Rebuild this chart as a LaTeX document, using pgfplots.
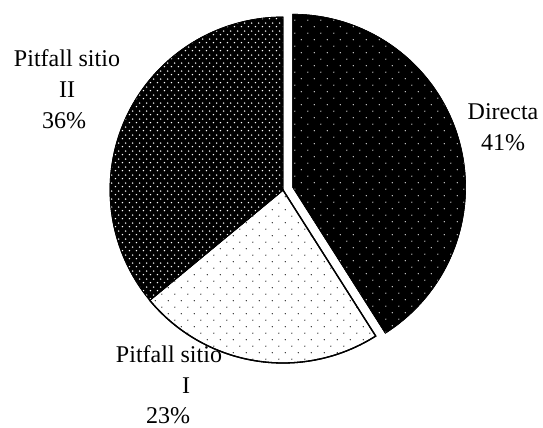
\documentclass[border=0pt]{standalone}
\usepackage{fontspec}
\setmainfont{Liberation Serif}
\usepackage{pgfplots}
\pgfplotsset{compat=1.18}
\usepackage{pgfplotstable}
\usetikzlibrary{patterns.meta}

% staggered dot fills
\pgfdeclarepattern{
  name=sparsedots, type=uncolored,
  bottom left={\pgfpoint{0bp}{0bp}},
  top right={\pgfpoint{13.3bp}{13.3bp}},
  tile size={\pgfpoint{13.3bp}{13.3bp}},
  code={
    \pgfpathcircle{\pgfpoint{3bp}{3bp}}{0.65bp}
    \pgfpathcircle{\pgfpoint{9.65bp}{9.65bp}}{0.65bp}
    \pgfusepath{fill}
  }
}
\pgfdeclarepattern{
  name=densedots, type=uncolored,
  bottom left={\pgfpoint{0bp}{0bp}},
  top right={\pgfpoint{6.7bp}{8bp}},
  tile size={\pgfpoint{6.7bp}{8bp}},
  code={
    \pgfpathcircle{\pgfpoint{1.5bp}{1.5bp}}{0.85bp}
    \pgfpathcircle{\pgfpoint{4.85bp}{5.5bp}}{0.85bp}
    \pgfusepath{fill}
  }
}

\tikzset{lbl/.style={font=\fontsize{24bp}{31bp}\selectfont, anchor=base, inner sep=0pt}}

% share of each group (percent)
\pgfplotstableread{
label     value
Directa   41
PitfallI  23
PitfallII 36
}\piedata

\pgfplotstablegetelem{0}{value}\of\piedata \let\vA\pgfplotsretval
\pgfplotstablegetelem{1}{value}\of\piedata \let\vB\pgfplotsretval
\pgfplotstablegetelem{2}{value}\of\piedata \let\vC\pgfplotsretval

% slices run clockwise from twelve o'clock
\pgfmathsetmacro\aA{90}
\pgfmathsetmacro\bA{\aA-3.6*\vA}
\pgfmathsetmacro\bB{\bA-3.6*\vB}
\pgfmathsetmacro\bC{\bB-3.6*\vC}
\pgfmathsetmacro\cx{283}
\pgfmathsetmacro\cy{238}
\pgfmathsetmacro\rr{173}
% first slice pulled out along its bisector
\pgfmathsetmacro\midA{(\aA+\bA)/2}
\pgfmathsetmacro\ex{\cx+10*cos(\midA)}
\pgfmathsetmacro\ey{\cy+10*sin(\midA)}

\begin{document}
\begin{tikzpicture}
\useasboundingbox (0,0) rectangle (543bp,428bp);
\begin{axis}[
  at={(0,0)}, anchor=south west,
  scale only axis, width=543bp, height=428bp,
  xmin=0, xmax=543, ymin=0, ymax=428,
  hide axis, clip=false,
]
% Directa
\addplot[draw=black, line width=0.6bp, preaction={fill=black},
  pattern=sparsedots, pattern color=white,
  domain=\bA:\aA, samples=100, variable=\t]
  ({\ex+\rr*cos(\t)}, {\ey+\rr*sin(\t)}) -- (axis cs:\ex,\ey) -- cycle;
% Pitfall sitio I
\addplot[draw=black, line width=1.3bp, preaction={fill=white},
  pattern=sparsedots, pattern color=black,
  domain=\bB:\bA, samples=70, variable=\t]
  ({\cx+\rr*cos(\t)}, {\cy+\rr*sin(\t)}) -- (axis cs:\cx,\cy) -- cycle;
% Pitfall sitio II
\addplot[draw=black, line width=0.8bp, preaction={fill=black},
  pattern=densedots, pattern color=white,
  domain=\bC:\bB, samples=100, variable=\t]
  ({\cx+\rr*cos(\t)}, {\cy+\rr*sin(\t)}) -- (axis cs:\cx,\cy) -- cycle;

\node[lbl] at (axis cs:503,308) {Directa};
\node[lbl] at (axis cs:503,277) {\vA\%};
\node[lbl] at (axis cs:67,361) {Pitfall sitio};
\node[lbl] at (axis cs:67,330) {II};
\node[lbl] at (axis cs:64,299) {\vC\%};
\node[lbl] at (axis cs:169,65) {Pitfall sitio};
\node[lbl] at (axis cs:186,34) {I};
\node[lbl] at (axis cs:168,5) {\vB\%};
\end{axis}
\end{tikzpicture}
\end{document}
